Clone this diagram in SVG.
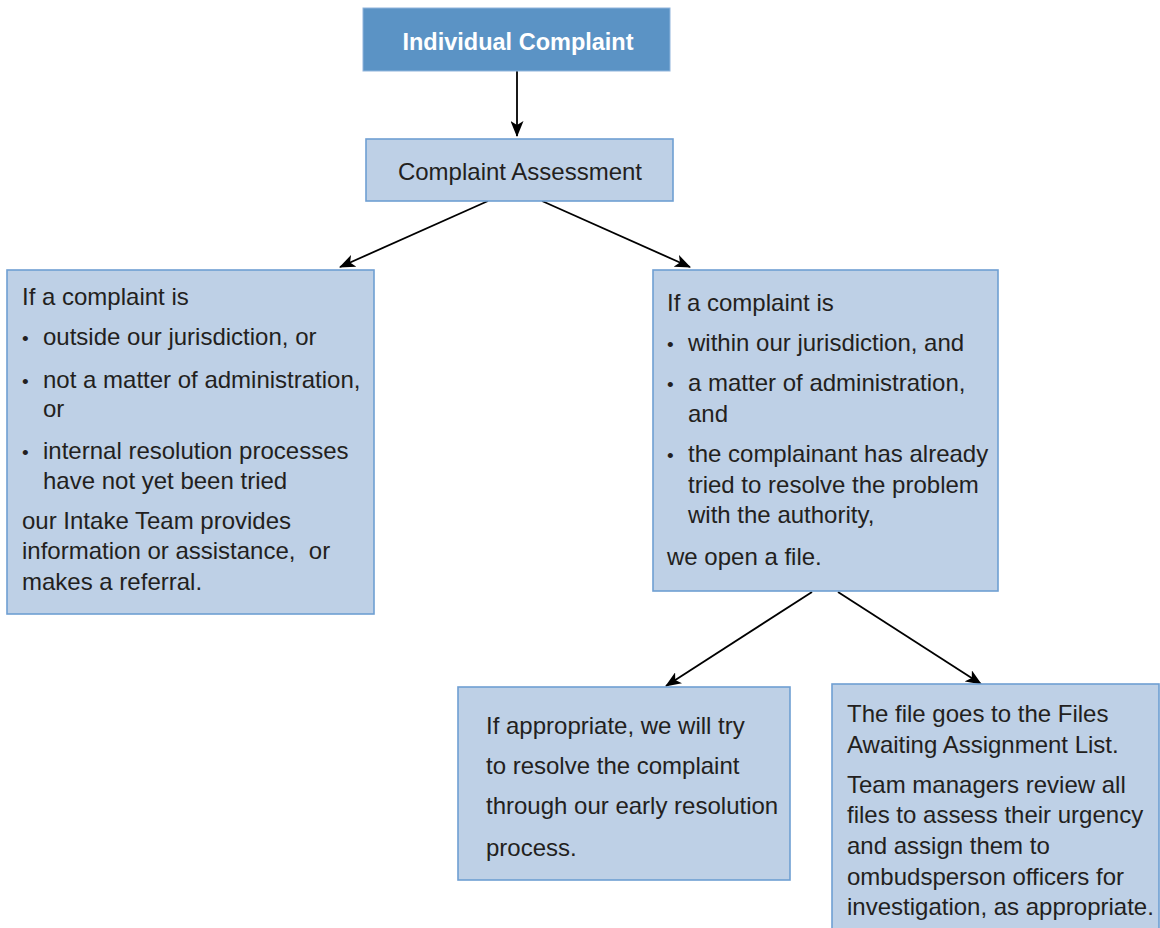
<svg xmlns="http://www.w3.org/2000/svg" width="1160" height="928" viewBox="0 0 1160 928">
<style>
.box{fill:#bed0e6;stroke:#6f9fd3;stroke-width:1.6}
.head{fill:#5b93c5;stroke:#8fb4dc;stroke-width:1}
.t{font-family:"Liberation Sans",Arial,sans-serif;font-size:24px;fill:#231f20}
.b{font-family:"Liberation Sans",Arial,sans-serif;font-size:19px;fill:#231f20}
.h{font-family:"Liberation Sans",Arial,sans-serif;font-size:23.5px;font-weight:bold;fill:#ffffff}
.c{stroke:#000;stroke-width:1.8;fill:none;marker-end:url(#arr)}
</style>
<defs>
<marker id="arr" viewBox="0 0 16 13" refX="15" refY="6.5" markerWidth="16" markerHeight="13" orient="auto" markerUnits="userSpaceOnUse">
<path d="M0,0 L16,6.5 L0,13 L4,6.5 z" fill="#000"/>
</marker>
</defs>
<rect width="1160" height="928" fill="#fff"/>
<g id="connectors">
<line class="c" x1="517" y1="71" x2="517" y2="136"/>
<line class="c" x1="488" y1="201" x2="340" y2="267"/>
<line class="c" x1="542" y1="201" x2="690" y2="267"/>
<line class="c" x1="812" y1="592" x2="666" y2="686"/>
<line class="c" x1="838" y1="592" x2="981" y2="684"/>
</g>
<g id="individual-complaint">
<rect class="head" x="363" y="8" width="307" height="63"/>
<text class="h" x="518" y="50" text-anchor="middle">Individual Complaint</text>
</g>
<g id="complaint-assessment">
<rect class="box" x="366" y="139" width="307" height="62"/>
<text class="t" x="520" y="180" text-anchor="middle">Complaint Assessment</text>
</g>
<g id="outside">
<rect class="box" x="7" y="270" width="367" height="344"/>
<text class="t" x="22" y="305">If a complaint is</text>
<text class="b" x="22" y="345">•</text><text class="t" x="43" y="345">outside our jurisdiction, or</text>
<text class="b" x="22" y="388">•</text><text class="t" x="43" y="388">not a matter of administration,</text>
<text class="t" x="43" y="417">or</text>
<text class="b" x="22" y="459">•</text><text class="t" x="43" y="459">internal resolution processes</text>
<text class="t" x="43" y="489">have not yet been tried</text>
<text class="t" x="22" y="529">our Intake Team provides</text>
<text class="t" x="22" y="559" xml:space="preserve">information or assistance,  or</text>
<text class="t" x="22" y="590">makes a referral.</text>
</g>
<g id="within">
<rect class="box" x="653" y="270" width="345" height="321"/>
<text class="t" x="667" y="311">If a complaint is</text>
<text class="b" x="667" y="351">•</text><text class="t" x="688" y="351">within our jurisdiction, and</text>
<text class="b" x="667" y="391">•</text><text class="t" x="688" y="391">a matter of administration,</text>
<text class="t" x="688" y="422">and</text>
<text class="b" x="667" y="462">•</text><text class="t" x="688" y="462">the complainant has already</text>
<text class="t" x="688" y="493">tried to resolve the problem</text>
<text class="t" x="688" y="523">with the authority,</text>
<text class="t" x="667" y="565">we open a file.</text>
</g>
<g id="early-resolution">
<rect class="box" x="458" y="687" width="332" height="193"/>
<text class="t" x="486" y="734">If appropriate, we will try</text>
<text class="t" x="486" y="774">to resolve the complaint</text>
<text class="t" x="486" y="814">through our early resolution</text>
<text class="t" x="486" y="856">process.</text>
</g>
<g id="assignment">
<rect class="box" x="832" y="684" width="327" height="260"/>
<text class="t" x="847" y="722">The file goes to the Files</text>
<text class="t" x="847" y="753">Awaiting Assignment List.</text>
<text class="t" x="847" y="793">Team managers review all</text>
<text class="t" x="847" y="823">files to assess their urgency</text>
<text class="t" x="847" y="854">and assign them to</text>
<text class="t" x="847" y="885">ombudsperson officers for</text>
<text class="t" x="847" y="915">investigation, as appropriate.</text>
</g>
</svg>
